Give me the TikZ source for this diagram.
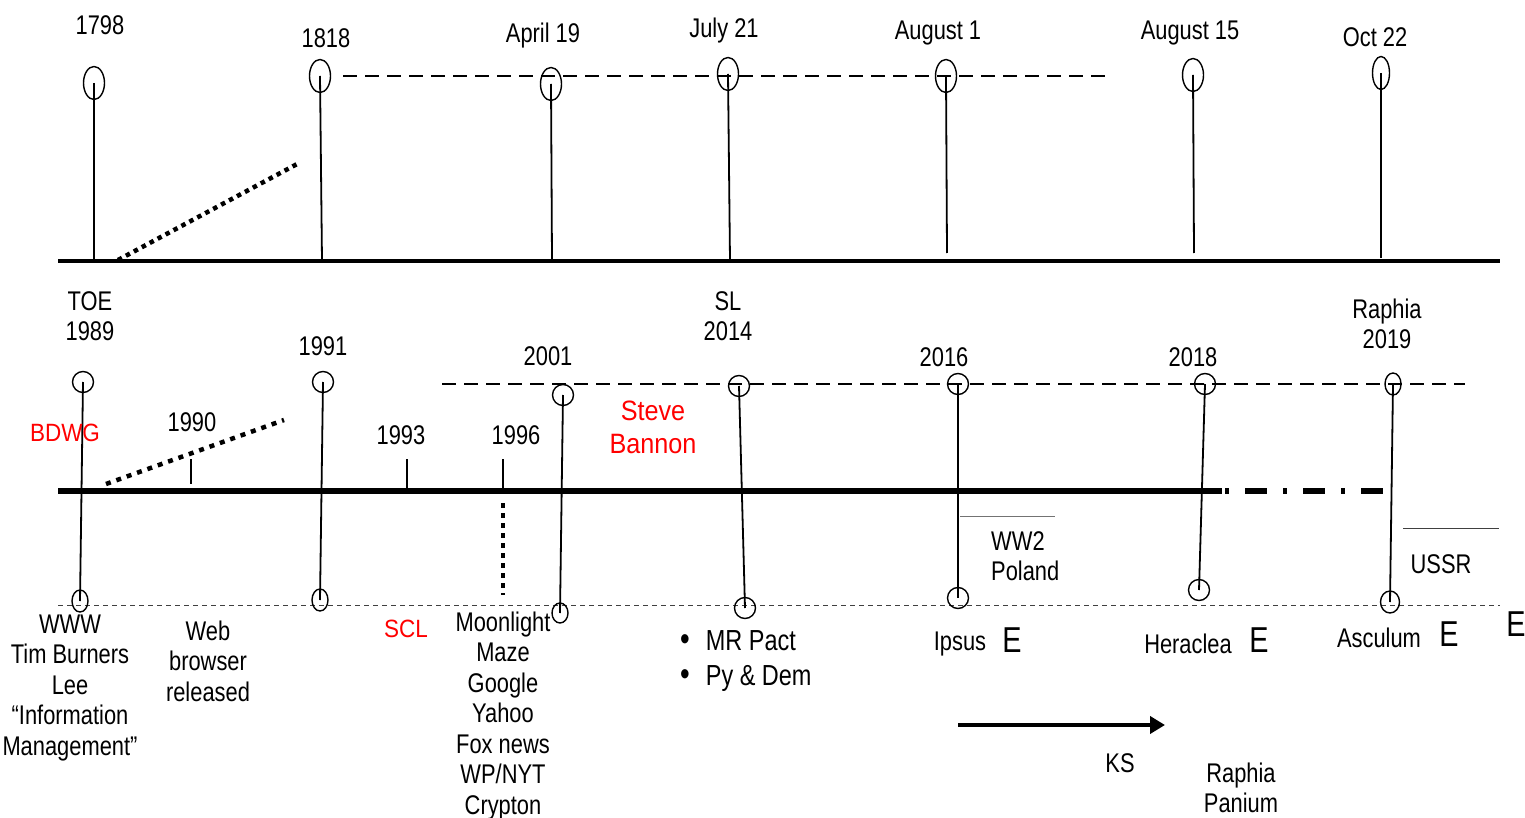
\documentclass[tikz,border=0pt]{standalone}
\usepackage{fontspec}
\setmainfont{Liberation Sans}[FakeStretch=0.81]
\newfontfamily\redfont{Liberation Sans}[FakeStretch=0.9]
\newfontfamily\bigEfont{Liberation Sans}[FakeStretch=0.8]
\usetikzlibrary{shapes.geometric,arrows.meta}

\begin{document}
\begin{tikzpicture}[x=1pt,y=-1pt]
\tikzstyle{every node}+=[inner sep=0pt,font=\fontsize{27}{30.5}\selectfont]
\tikzstyle{pin}=[draw,ellipse,line width=1.4pt,minimum width=21pt,minimum height=33pt]
\tikzstyle{ring}=[draw,circle,line width=1.4pt,minimum size=21pt]
\tikzstyle{egg}=[draw,ellipse,line width=1.4pt,minimum width=16pt,minimum height=22pt]
\tikzstyle{stem}=[line width=1.8pt]
\tikzstyle{tick}=[line width=1.2pt]
\tikzstyle{redtext}=[text=red,font=\redfont\fontsize{28}{33}\selectfont]
\tikzstyle{redsmall}=[text=red,font=\redfont\fontsize{25}{30}\selectfont]
\tikzstyle{bigE}=[font=\bigEfont\fontsize{36}{36}\selectfont]
\useasboundingbox (0,0) rectangle (1525,818);
% top timeline
\coordinate (topL) at (58,261);
\coordinate (topR) at (1500,261);
\draw [line width=4pt] (topL) -- (topR);
\node [pin] (o1798) at (94,83) {};
\node [pin] (o1818) at (320,76) {};
\node [pin] (oApr) at (551,84) {};
\node [pin] (oJul) at (728,74) {};
\node [pin] (oAug1) at (946,76) {};
\node [pin] (oAug15) at (1193,75) {};
\node [pin,minimum width=17pt] (oOct) at (1381,73) {};
\coordinate (s1798) at (94,261);
\coordinate (s1818) at (322,261);
\coordinate (sApr) at (552,261);
\coordinate (sJul) at (730,261);
\coordinate (sAug1) at (947,253);
\coordinate (sAug15) at (1194,253);
\coordinate (sOct) at (1381,258);
\draw [stem] (o1798.center) -- (s1798);
\draw [stem] (o1818.center) -- (s1818);
\draw [stem] (oApr.center) -- (sApr);
\draw [stem] (oJul.center) -- (sJul);
\draw [stem] (oAug1.center) -- (sAug1);
\draw [stem] (oAug15.center) -- (sAug15);
\draw [stem] (oOct.center) -- (sOct);
\coordinate (dashA) at (343,76);
\coordinate (dashB) at (1106,76);
\draw [line width=1.3pt,dash pattern=on 14pt off 8pt] (dashA) -- (dashB);
\coordinate (dotA) at (118,260);
\coordinate (dotB) at (299,163);
\draw [line width=4.5pt,dash pattern=on 4.5pt off 4.5pt] (dotA) -- (dotB);
\node (l1798) at (100,25) {1798};
\node (l1818) at (326,38) {1818};
\node (lApr) at (543,36) {April 19};
\node (lJul) at (724,31) {July 21};
\node (lAug1) at (938,33) {August 1};
\node (lAug15) at (1190,33) {August 15};
\node (lOct) at (1375,37) {Oct 22};
% bottom timeline
\coordinate (botL) at (58,491);
\coordinate (botM) at (1222,491);
\coordinate (botN) at (1225,491);
\coordinate (botR) at (1385,491);
\draw [line width=6.5pt] (botL) -- (botM);
\draw [line width=6.5pt,dash pattern=on 4pt off 16pt on 22pt off 16pt] (botN) -- (botR);
\coordinate (upA) at (442,384);
\coordinate (upB) at (1465,384);
\draw [line width=1.3pt,dash pattern=on 14pt off 8pt] (upA) -- (upB);
\coordinate (lowA) at (58,605);
\coordinate (lowB) at (1500,605);
\draw [line width=0.9pt,black!75,dash pattern=on 5pt off 4pt] (lowA) -- (lowB);
\node [ring] (t1989) at (83,382) {};
\node [egg] (b1989) at (80,601) {};
\node [ring] (t1991) at (323,382) {};
\node [egg] (b1991) at (320,600) {};
\node [ring] (t2001) at (563,395) {};
\node [egg,minimum height=20pt] (b2001) at (560,613) {};
\node [ring] (t2014) at (739,386) {};
\node [ring] (b2014) at (745,608) {};
\node [ring] (t2016) at (958,384) {};
\node [ring] (b2016) at (958,598) {};
\node [ring] (t2018) at (1205,384) {};
\node [ring] (b2018) at (1199,590) {};
\node [egg] (t2019) at (1393,384) {};
\node [egg,minimum width=19pt] (b2019) at (1390,602) {};
\draw [stem] (t1989.center) -- (b1989.center);
\draw [stem] (t1991.center) -- (b1991.center);
\draw [stem] (t2001.center) -- (b2001.center);
\draw [stem] (t2014.center) -- (b2014.center);
\draw [stem] (t2016.center) -- (b2016.center);
\draw [stem] (t2018.center) -- (b2018.center);
\draw [stem] (t2019.center) -- (b2019.center);
% ticks and dotted marks
\coordinate (k1990a) at (191,459);
\coordinate (k1990b) at (191,484);
\coordinate (k1993a) at (407,459);
\coordinate (k1993b) at (407,493);
\coordinate (k1996a) at (503,459);
\coordinate (k1996b) at (503,491);
\draw [tick] (k1990a) -- (k1990b);
\draw [tick] (k1993a) -- (k1993b);
\draw [tick] (k1996a) -- (k1996b);
\coordinate (vdotA) at (503,503);
\coordinate (vdotB) at (503,595);
\draw [line width=4.5pt,dash pattern=on 5pt off 5pt] (vdotA) -- (vdotB);
\coordinate (ddotA) at (106,484);
\coordinate (ddotB) at (284,420);
\draw [line width=4.5pt,dash pattern=on 5pt off 6pt] (ddotA) -- (ddotB);
\coordinate (ww2A) at (960,516);
\coordinate (ww2B) at (1055,516);
\draw [line width=1pt,black!55] (ww2A) -- (ww2B);
\coordinate (ussrA) at (1403,528);
\coordinate (ussrB) at (1499,528);
\draw [line width=1pt,black!75] (ussrA) -- (ussrB);
\coordinate (ksA) at (958,725);
\coordinate (ksB) at (1165,725);
\draw [line width=4.5pt,-{Triangle[length=15pt,width=17pt]}] (ksA) -- (ksB);
% labels
\node [align=center] (lToe) at (90,316) {TOE\\1989};
\node (l1991) at (323,346) {1991};
\node (l2001) at (548,356) {2001};
\node [align=center] (lSl) at (728,316) {SL\\2014};
\node (l2016) at (944,357) {2016};
\node (l2018) at (1193,357) {2018};
\node [align=center] (lRaph) at (1387,324) {Raphia\\2019};
\node (l1990) at (192,422) {1990};
\node (l1993) at (401,435) {1993};
\node (l1996) at (516,435) {1996};
\node [redsmall] (lBdwg) at (65,433) {BDWG};
\node [redtext,align=center] (lBannon) at (653,427) {Steve\\Bannon};
\node [redsmall] (lScl) at (406,629) {SCL};
\node [align=left,anchor=west] (lWw2) at (991,556) {WW2\\Poland};
\node (lUssr) at (1441,564) {USSR};
\node [align=center] (lWww) at (70,688) {WWW\\Tim Burners\\Lee\\“Information\\Management”};
\node [align=center] (lWeb) at (208,661) {Web\\browser\\released};
\node [align=center] (lMoon) at (503,716) {Moonlight\\Maze\\Google\\Yahoo\\Fox news\\WP/NYT\\Crypton};
\node [align=left,anchor=west,font=\fontsize{29}{35}\selectfont] (lPact) at (680,661) {{\fontsize{34}{34}\selectfont\textbullet}\hspace{16pt}MR Pact\\{\fontsize{34}{34}\selectfont\textbullet}\hspace{16pt}Py \& Dem};
\node (lIpsus) at (960,644) {Ipsus};
\node [bigE] (eIpsus) at (1012,640) {E};
\node (lHera) at (1188,644) {Heraclea};
\node [bigE] (eHera) at (1259,640) {E};
\node (lAsc) at (1379,638) {Asculum};
\node [bigE] (eAsc) at (1449,634) {E};
\node [bigE] (eEnd) at (1516,624) {E};
\node (lKs) at (1120,763) {KS};
\node [align=center] (lPan) at (1241,788) {Raphia\\Panium};
\end{tikzpicture}
\end{document}
